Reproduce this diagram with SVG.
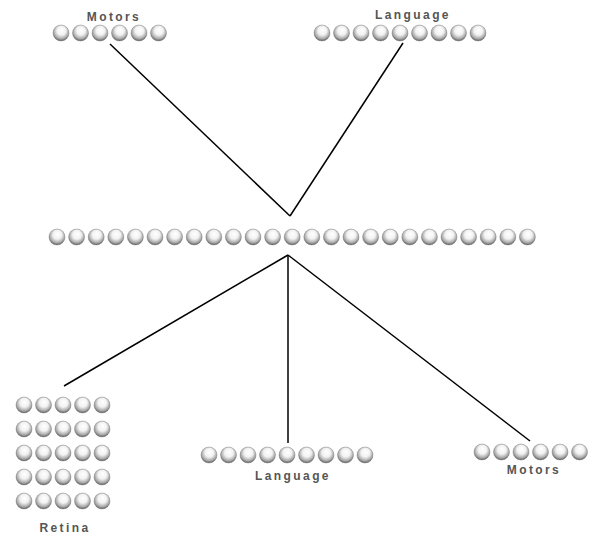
<svg xmlns="http://www.w3.org/2000/svg" xmlns:xlink="http://www.w3.org/1999/xlink" width="595" height="538" viewBox="0 0 595 538">
<defs>
<radialGradient id="g" cx="0.5" cy="0.42" r="0.6" fx="0.55" fy="0.3">
<stop offset="0" stop-color="#ffffff"/>
<stop offset="0.45" stop-color="#f2f2f2"/>
<stop offset="0.78" stop-color="#a8a8a8"/>
<stop offset="1" stop-color="#505050"/>
</radialGradient>
<circle id="s" r="8" fill="url(#g)" stroke="#777" stroke-width="0.4"/>
</defs>
<style>
.lbl{font-family:"Liberation Sans",Arial,sans-serif;font-weight:bold;font-size:12px;letter-spacing:2.4px;fill:#555;text-anchor:middle}
.c{stroke:#000;stroke-width:1.5;fill:none}
</style>
<rect width="595" height="538" fill="#fff"/>
<g id="connectors">
<line class="c" x1="110" y1="44" x2="290" y2="216"/>
<line class="c" x1="403" y1="43" x2="290" y2="216"/>
<line class="c" x1="288" y1="255" x2="64" y2="386"/>
<line class="c" x1="288" y1="255" x2="288" y2="443"/>
<line class="c" x1="288" y1="255" x2="530" y2="441"/>
</g>
<g id="motors-top">
<text class="lbl" x="114" y="21">Motors</text>
<use href="#s" x="61" y="33"/><use href="#s" x="80.5" y="33"/><use href="#s" x="100" y="33"/><use href="#s" x="119.5" y="33"/><use href="#s" x="139" y="33"/><use href="#s" x="158.5" y="33"/>
</g>
<g id="language-top">
<text class="lbl" x="413" y="19">Language</text>
<use href="#s" x="322" y="33"/><use href="#s" x="341.5" y="33"/><use href="#s" x="361" y="33"/><use href="#s" x="380.5" y="33"/><use href="#s" x="400" y="33"/><use href="#s" x="419.5" y="33"/><use href="#s" x="439" y="33"/><use href="#s" x="458.5" y="33"/><use href="#s" x="478" y="33"/>
</g>
<g id="hidden">
<use href="#s" x="57" y="237"/><use href="#s" x="76.6" y="237"/><use href="#s" x="96.2" y="237"/><use href="#s" x="115.8" y="237"/><use href="#s" x="135.4" y="237"/><use href="#s" x="155" y="237"/><use href="#s" x="174.6" y="237"/><use href="#s" x="194.2" y="237"/><use href="#s" x="213.8" y="237"/><use href="#s" x="233.4" y="237"/><use href="#s" x="253" y="237"/><use href="#s" x="272.6" y="237"/><use href="#s" x="292.2" y="237"/><use href="#s" x="311.8" y="237"/><use href="#s" x="331.4" y="237"/><use href="#s" x="351" y="237"/><use href="#s" x="370.6" y="237"/><use href="#s" x="390.2" y="237"/><use href="#s" x="409.8" y="237"/><use href="#s" x="429.4" y="237"/><use href="#s" x="449" y="237"/><use href="#s" x="468.6" y="237"/><use href="#s" x="488.2" y="237"/><use href="#s" x="507.8" y="237"/><use href="#s" x="527.4" y="237"/>
</g>
<g id="retina">
<use href="#s" x="24" y="405"/><use href="#s" x="43.5" y="405"/><use href="#s" x="63" y="405"/><use href="#s" x="82.5" y="405"/><use href="#s" x="102" y="405"/>
<use href="#s" x="24" y="429"/><use href="#s" x="43.5" y="429"/><use href="#s" x="63" y="429"/><use href="#s" x="82.5" y="429"/><use href="#s" x="102" y="429"/>
<use href="#s" x="24" y="453"/><use href="#s" x="43.5" y="453"/><use href="#s" x="63" y="453"/><use href="#s" x="82.5" y="453"/><use href="#s" x="102" y="453"/>
<use href="#s" x="24" y="477"/><use href="#s" x="43.5" y="477"/><use href="#s" x="63" y="477"/><use href="#s" x="82.5" y="477"/><use href="#s" x="102" y="477"/>
<use href="#s" x="24" y="501"/><use href="#s" x="43.5" y="501"/><use href="#s" x="63" y="501"/><use href="#s" x="82.5" y="501"/><use href="#s" x="102" y="501"/>
<text class="lbl" x="65" y="532">Retina</text>
</g>
<g id="language-bottom">
<use href="#s" x="209" y="455"/><use href="#s" x="228.5" y="455"/><use href="#s" x="248" y="455"/><use href="#s" x="267.5" y="455"/><use href="#s" x="287" y="455"/><use href="#s" x="306.5" y="455"/><use href="#s" x="326" y="455"/><use href="#s" x="345.5" y="455"/><use href="#s" x="365" y="455"/>
<text class="lbl" x="293" y="480">Language</text>
</g>
<g id="motors-bottom">
<use href="#s" x="482" y="452"/><use href="#s" x="501.5" y="452"/><use href="#s" x="521" y="452"/><use href="#s" x="540.5" y="452"/><use href="#s" x="560" y="452"/><use href="#s" x="579.5" y="452"/>
<text class="lbl" x="534" y="474">Motors</text>
</g>
</svg>
